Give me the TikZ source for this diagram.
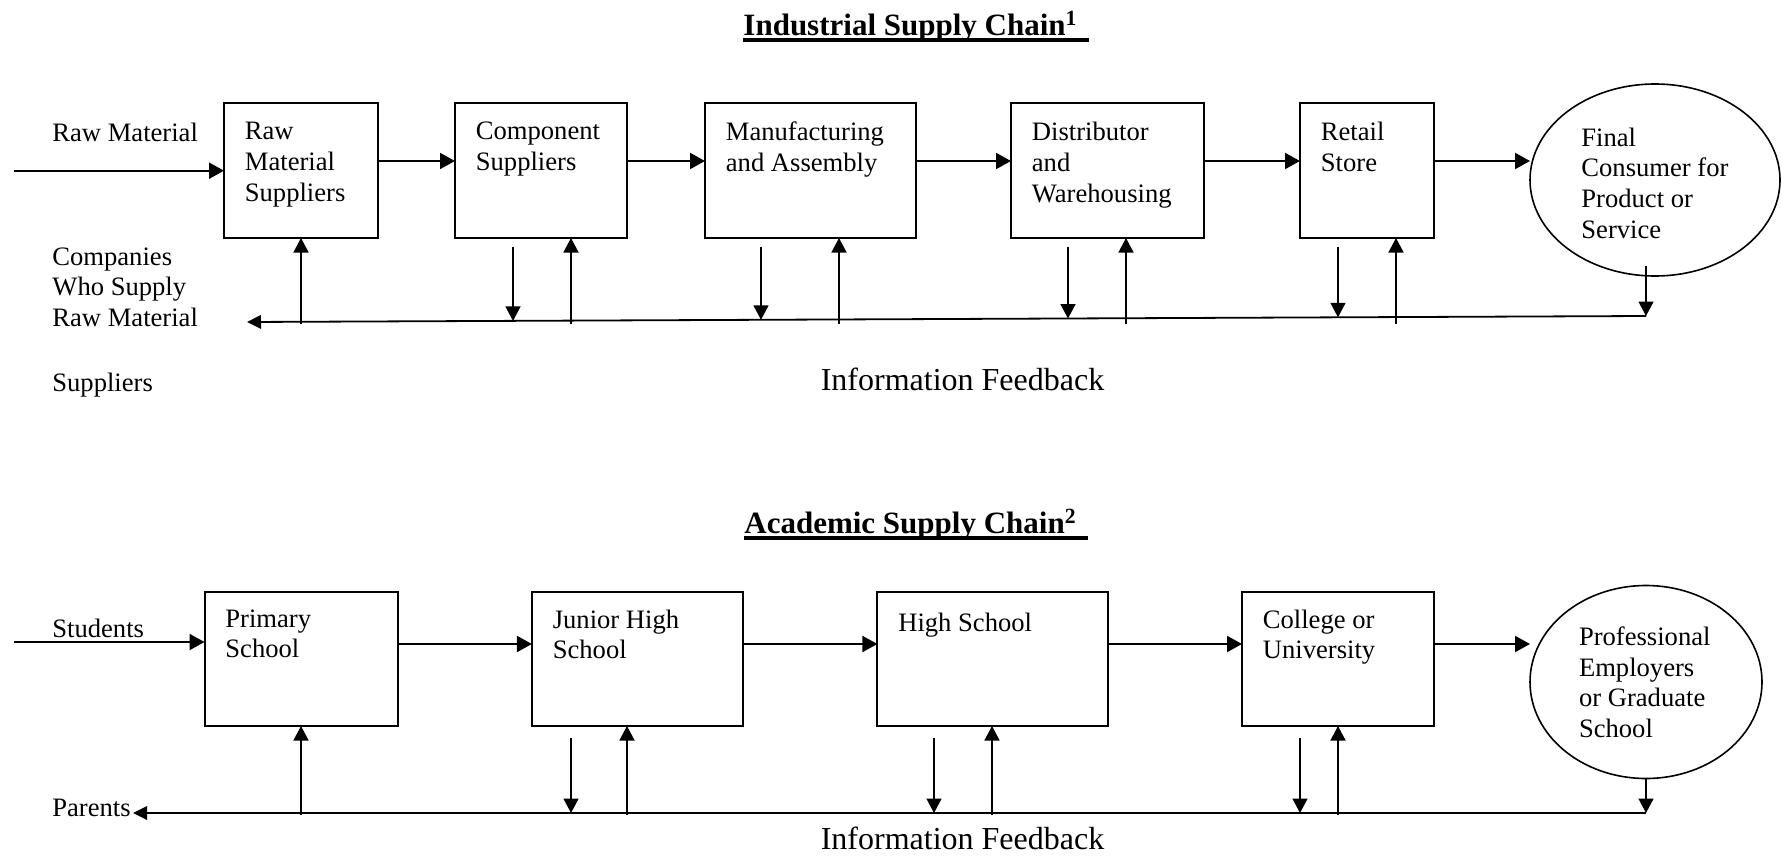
\documentclass[tikz,border=0pt]{standalone}
\usepackage{fontspec}
\setmainfont{Liberation Serif}
\usetikzlibrary{arrows.meta,shapes.geometric,calc}
\begin{document}
\begin{tikzpicture}[x=0.5pt,y=-0.5pt,
  box/.style={draw,line width=1pt,outer sep=0pt,inner sep=0pt},
  oval/.style={draw,ellipse,line width=0.8pt,outer sep=0pt,inner sep=0pt},
  txt/.style={font=\fontsize{13.3}{15.35}\selectfont,align=left,inner sep=0pt,anchor=north west,execute at begin node=\strut},
  lbl/.style={font=\fontsize{13.3}{15.35}\selectfont,inner sep=0pt,anchor=base west},
  flow/.style={line width=1pt,-{Triangle[length=7.5pt,width=8pt]}},
  fb/.style={line width=0.75pt,-{Triangle[length=7.25pt,width=7.5pt]}},
  fbline/.style={line width=0.9pt,-{Triangle[length=7pt,width=6.75pt]}},
  ttl/.style={font=\fontsize{15.5}{18}\selectfont\bfseries,inner sep=0pt,anchor=base},
  uline/.style={line width=2pt},
  info/.style={font=\fontsize{16}{19}\selectfont,inner sep=0pt,anchor=base}]
\useasboundingbox (0,0) rectangle (1782,856);

% ---------------- Industrial supply chain ----------------
\node[ttl] (t1) at (910.5,35.7) {Industrial Supply Chain\textsuperscript{1}};
\draw[uline] ([yshift=-2.15pt]t1.base west) -- ([xshift=5.5pt,yshift=-2.15pt]t1.base east);

\node[box,minimum width=77pt,minimum height=67.5pt] (b1) at (301,170.5) {};
\node[box,minimum width=86pt,minimum height=67.5pt] (b2) at (541,170.5) {};
\node[box,minimum width=105.5pt,minimum height=67.5pt] (b3) at (810.5,170.5) {};
\node[box,minimum width=96.5pt,minimum height=67.5pt] (b4) at (1107.5,170.5) {};
\node[box,minimum width=67pt,minimum height=67.5pt] (b5) at (1367,170.5) {};
\node[oval,minimum width=125pt,minimum height=96pt] (e1) at (1655,180) {};

\node[txt] (b1t) at ([xshift=10.25pt,yshift=-9.4pt]b1.north west) {Raw\\Material\\Suppliers};
\node[txt] (b2t) at ([xshift=10.25pt,yshift=-9.4pt]b2.north west) {Component\\Suppliers};
\node[txt] (b3t) at ([xshift=10.25pt,yshift=-9.4pt]b3.north west) {Manufacturing\\and Assembly};
\node[txt] (b4t) at ([xshift=10.25pt,yshift=-9.4pt]b4.north west) {Distributor\\and\\Warehousing};
\node[txt] (b5t) at ([xshift=10.25pt,yshift=-9.4pt]b5.north west) {Retail\\Store};
\node[txt] (e1t) at (1581,127.4) {Final\\Consumer for\\Product or\\Service};

\node[lbl] (rawlbl) at (52,141) {Raw Material};
\node[txt] (complbl) at (52,247) {Companies\\Who Supply\\Raw Material};
\node[lbl] (supplbl) at (52,391) {Suppliers};
\node[info] (if1) at (962.5,390.7) {Information Feedback};

\coordinate (in1) at (14,170.7);
\draw[flow] (in1) -- (in1 -| b1.west);
\draw[flow] ([yshift=4.75pt]b1.east) -- ([yshift=4.75pt]b2.west);
\draw[flow] ([yshift=4.75pt]b2.east) -- ([yshift=4.75pt]b3.west);
\draw[flow] ([yshift=4.75pt]b3.east) -- ([yshift=4.75pt]b4.west);
\draw[flow] ([yshift=4.75pt]b4.east) -- ([yshift=4.75pt]b5.west);
\coordinate (a5) at ([yshift=4.75pt]b5.east);
\draw[flow] (a5) -- (a5 -| e1.west);

% feedback line
\coordinate (fbR1) at (1646,316);
\coordinate (fbL1) at (247,322);
\draw[fbline] (fbR1) -- (fbL1);
% up arrows
\coordinate (u11) at (301,324);
\coordinate (u12) at (571,324);
\coordinate (u13) at (839,324);
\coordinate (u14) at (1126,324);
\coordinate (u15) at (1396,324);
\draw[fb] (u11) -- (u11 |- b1.south);
\draw[fb] (u12) -- (u12 |- b2.south);
\draw[fb] (u13) -- (u13 |- b3.south);
\draw[fb] (u14) -- (u14 |- b4.south);
\draw[fb] (u15) -- (u15 |- b5.south);
% down arrows
\coordinate (d12s) at (513,247);  \coordinate (d12e) at (513,320.9);
\coordinate (d13s) at (761,247);  \coordinate (d13e) at (761,319.8);
\coordinate (d14s) at (1068,247); \coordinate (d14e) at (1068,318.5);
\coordinate (d15s) at (1338,247); \coordinate (d15e) at (1338,317.3);
\coordinate (d16s) at (1646,266);
\draw[fb] (d12s) -- (d12e);
\draw[fb] (d13s) -- (d13e);
\draw[fb] (d14s) -- (d14e);
\draw[fb] (d15s) -- (d15e);
\draw[fb] (d16s) -- (fbR1);

% ---------------- Academic supply chain ----------------
\node[ttl] (t2) at (910.5,533.5) {Academic Supply Chain\textsuperscript{2}};
\draw[uline] ([yshift=-2.15pt]t2.base west) -- ([xshift=5.5pt,yshift=-2.15pt]t2.base east);

\node[box,minimum width=96.5pt,minimum height=67pt] (p) at (301,659) {};
\node[box,minimum width=105.7pt,minimum height=67pt] (j) at (637.6,659) {};
\node[box,minimum width=115.3pt,minimum height=67pt] (h) at (992.7,659) {};
\node[box,minimum width=96pt,minimum height=67pt] (c) at (1338,659) {};
\node[oval,minimum width=116pt,minimum height=96.5pt] (e2) at (1646,682) {};

\node[txt] (pt) at ([xshift=10.25pt,yshift=-8.6pt]p.north west) {Primary\\School};
\node[txt] (jt) at ([xshift=10.25pt,yshift=-8.6pt]j.north west) {Junior High\\School};
\node[txt] (ht) at ([xshift=10.25pt,yshift=-8.6pt]h.north west) {High School};
\node[txt] (ct) at ([xshift=10.25pt,yshift=-8.6pt]c.north west) {College or\\University};
\node[txt] (e2t) at (1578.6,626.3) {Professional\\Employers\\or Graduate\\School};

\node[lbl] (studlbl) at (52,637.5) {Students};
\node[lbl] (parlbl) at (52,816) {Parents};
\node[info] (if2) at (962.5,849.7) {Information Feedback};

\coordinate (in2) at (14,642);
\draw[flow] (in2) -- (in2 -| p.west);
\draw[flow] ([yshift=7.5pt]p.east) -- ([yshift=7.5pt]j.west);
\draw[flow] ([yshift=7.5pt]j.east) -- ([yshift=7.5pt]h.west);
\draw[flow] ([yshift=7.5pt]h.east) -- ([yshift=7.5pt]c.west);
\coordinate (a9) at ([yshift=7.5pt]c.east);
\draw[flow] (a9) -- (a9 -| e2.west);

\coordinate (fbR2) at (1646,813);
\coordinate (fbL2) at (133,813);
\draw[fbline] (fbR2) -- (fbL2);
\coordinate (u21) at (301,815);
\coordinate (u22) at (627,815);
\coordinate (u23) at (992,815);
\coordinate (u24) at (1338,815);
\draw[fb] (u21) -- (u21 |- p.south);
\draw[fb] (u22) -- (u22 |- j.south);
\draw[fb] (u23) -- (u23 |- h.south);
\draw[fb] (u24) -- (u24 |- c.south);
\coordinate (d22s) at (571,738);   \coordinate (d22e) at (571,813);
\coordinate (d23s) at (934,738);   \coordinate (d23e) at (934,813);
\coordinate (d24s) at (1300,738);  \coordinate (d24e) at (1300,813);
\coordinate (d25s) at (1646,778);
\draw[fb] (d22s) -- (d22e);
\draw[fb] (d23s) -- (d23e);
\draw[fb] (d24s) -- (d24e);
\draw[fb] (d25s) -- (fbR2);
\end{tikzpicture}
\end{document}
